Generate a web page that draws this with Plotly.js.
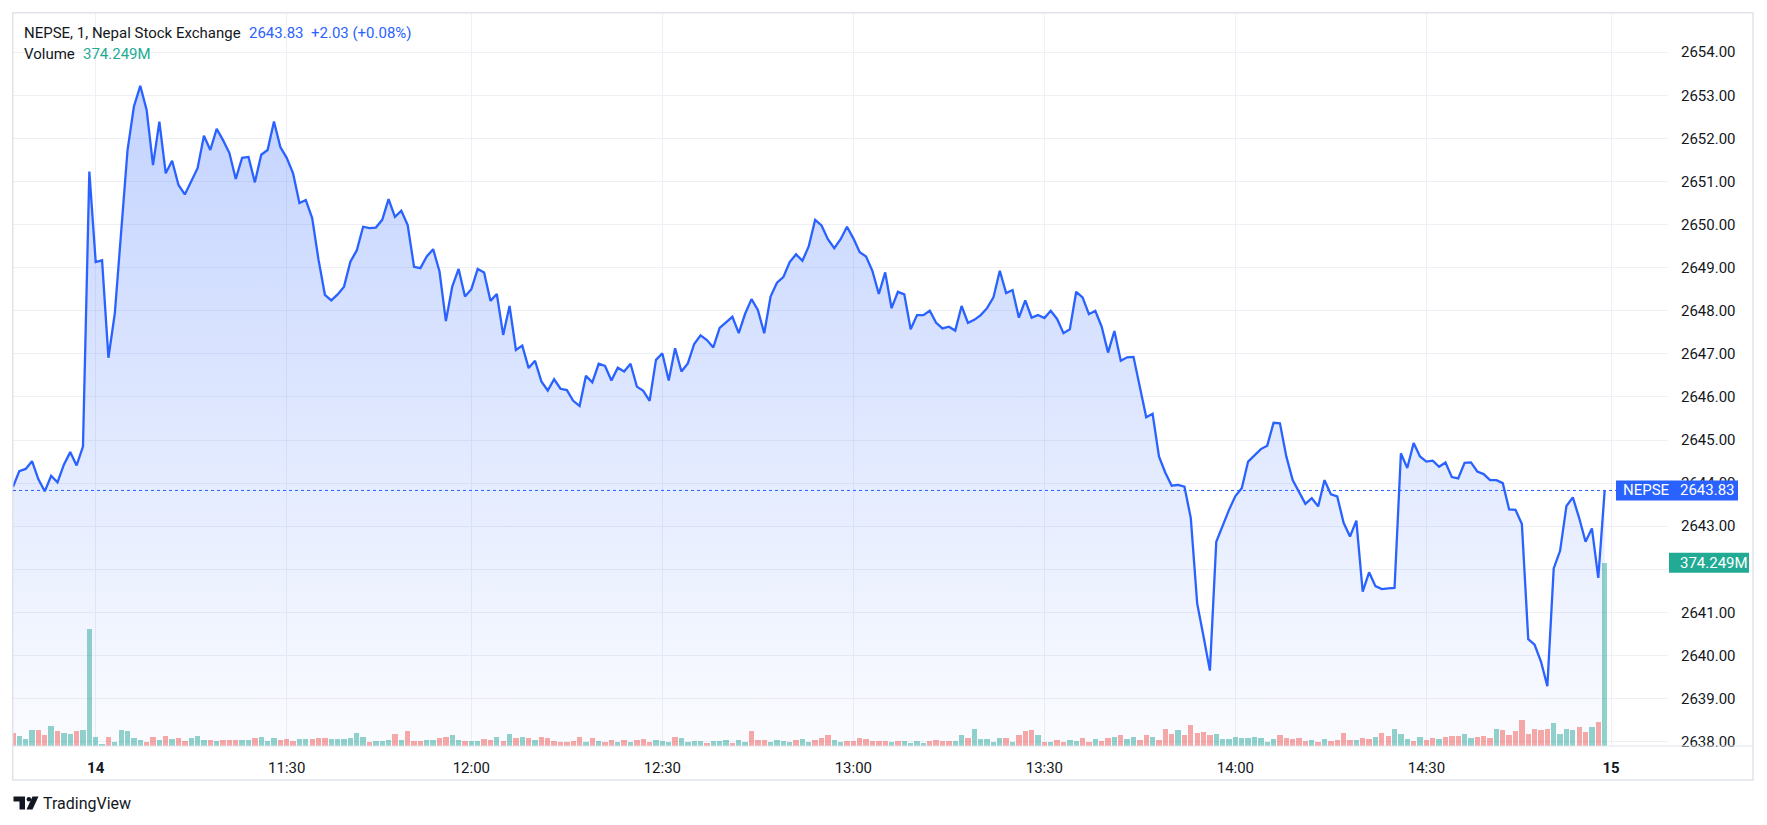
<!DOCTYPE html>
<html>
<head>
<meta charset="utf-8">
<script src="https://cdn.plot.ly/plotly-3.0.1.min.js"></script>
<style>
  html, body { margin: 0; padding: 0; background: #ffffff; }
  #chart { width: 1767px; height: 825px; }
</style>
</head>
<body>
<div id="chart"></div>
<script>
// ---------------- DATA ----------------
// One value per 1-minute bar; the first 13 bars are the end of the previous session.
const prices = [
  2643.91, 2644.28, 2644.33, 2644.51, 2644.09, 2643.81, 2644.17, 2644.02, 2644.43, 2644.72,
  2644.41, 2644.85, 2651.23, 2649.13, 2649.17, 2646.91, 2647.94, 2649.90, 2651.73, 2652.74,
  2653.22, 2652.66, 2651.38, 2652.39, 2651.19, 2651.48, 2650.92, 2650.70, 2651.00, 2651.31,
  2652.06, 2651.73, 2652.22, 2651.96, 2651.66, 2651.06, 2651.55, 2651.57, 2650.98, 2651.62,
  2651.73, 2652.39, 2651.80, 2651.55, 2651.19, 2650.50, 2650.57, 2650.15, 2649.18, 2648.37,
  2648.24, 2648.38, 2648.56, 2649.14, 2649.40, 2649.95, 2649.92, 2649.93, 2650.11, 2650.59,
  2650.18, 2650.32, 2649.99, 2649.02, 2648.99, 2649.26, 2649.43, 2648.91, 2647.76, 2648.56,
  2648.97, 2648.33, 2648.50, 2648.97, 2648.89, 2648.23, 2648.39, 2647.44, 2648.11, 2647.09,
  2647.19, 2646.67, 2646.84, 2646.36, 2646.15, 2646.41, 2646.19, 2646.16, 2645.91, 2645.79,
  2646.49, 2646.34, 2646.77, 2646.72, 2646.38, 2646.68, 2646.59, 2646.77, 2646.24, 2646.14,
  2645.91, 2646.86, 2647.01, 2646.38, 2647.13, 2646.59, 2646.78, 2647.23, 2647.43, 2647.32,
  2647.15, 2647.60, 2647.73, 2647.86, 2647.48, 2647.93, 2648.27, 2648.02, 2647.48, 2648.33,
  2648.65, 2648.78, 2649.13, 2649.31, 2649.16, 2649.50, 2650.11, 2649.98, 2649.66, 2649.45,
  2649.66, 2649.95, 2649.68, 2649.36, 2649.26, 2648.92, 2648.39, 2648.89, 2648.06, 2648.44,
  2648.38, 2647.57, 2647.90, 2647.90, 2648.00, 2647.72, 2647.59, 2647.63, 2647.54, 2648.11,
  2647.72, 2647.79, 2647.90, 2648.06, 2648.31, 2648.93, 2648.41, 2648.48, 2647.84, 2648.24,
  2647.84, 2647.90, 2647.83, 2648.00, 2647.81, 2647.48, 2647.57, 2648.44, 2648.31, 2647.92,
  2648.00, 2647.63, 2647.03, 2647.53, 2646.84, 2646.92, 2646.93, 2646.24, 2645.53, 2645.61,
  2644.62, 2644.24, 2643.94, 2643.96, 2643.92, 2643.19, 2641.21, 2640.44, 2639.65, 2642.64,
  2643.03, 2643.38, 2643.70, 2643.88, 2644.50, 2644.65, 2644.79, 2644.87, 2645.40, 2645.39,
  2644.62, 2644.07, 2643.80, 2643.52, 2643.65, 2643.46, 2644.07, 2643.74, 2643.69, 2643.08,
  2642.76, 2643.13, 2641.48, 2641.93, 2641.61, 2641.54, 2641.56, 2641.57, 2644.69, 2644.35,
  2644.93, 2644.62, 2644.50, 2644.52, 2644.38, 2644.48, 2644.14, 2644.11, 2644.47, 2644.48,
  2644.27, 2644.21, 2644.07, 2644.07, 2644.00, 2643.39, 2643.38, 2643.05, 2640.38, 2640.25,
  2639.86, 2639.29, 2642.02, 2642.43, 2643.47, 2643.67, 2643.19, 2642.64, 2642.95, 2641.80,
  2643.83
];

// Volume per bar, in millions
const volumes = [
  25.8, 20.4, 15.0, 32.0, 32.0, 21.8, 40.0, 30.0, 25.8, 24.5,
  30.6, 32.6, 238.0, 18.4, 3.4, 18.4, 8.2, 32.6, 30.0, 15.6,
  11.6, 7.5, 18.4, 11.6, 19.7, 14.3, 15.6, 10.2, 15.6, 19.7,
  11.6, 11.6, 9.5, 11.6, 11.6, 11.6, 11.6, 11.6, 15.6, 18.4,
  9.5, 15.6, 11.6, 13.6, 9.5, 13.6, 13.6, 13.6, 15.6, 15.6,
  13.6, 13.6, 13.6, 15.6, 25.8, 18.4, 7.5, 9.5, 9.5, 11.6,
  23.8, 11.6, 30.0, 9.5, 9.5, 11.6, 11.6, 15.6, 18.4, 21.8,
  11.6, 9.5, 9.5, 9.5, 13.6, 12.2, 18.4, 9.5, 23.8, 15.6,
  18.4, 15.6, 11.6, 18.4, 15.6, 9.5, 8.8, 8.8, 10.2, 18.4,
  8.8, 16.3, 10.2, 8.8, 12.2, 8.8, 12.2, 8.8, 12.2, 14.3,
  8.8, 12.2, 10.9, 8.8, 18.4, 16.3, 8.8, 10.2, 10.9, 6.8,
  10.2, 10.2, 12.2, 6.8, 12.2, 8.8, 30.6, 12.2, 12.2, 8.8,
  12.2, 10.2, 8.8, 12.2, 14.3, 8.8, 12.2, 16.3, 23.1, 12.2,
  8.8, 10.2, 10.2, 16.3, 14.3, 10.2, 10.2, 10.2, 8.8, 10.2,
  10.2, 6.8, 10.2, 6.8, 10.2, 12.2, 10.2, 10.2, 10.2, 22.4,
  16.3, 34.7, 14.3, 14.3, 8.8, 16.3, 16.3, 8.8, 22.4, 30.6,
  32.6, 23.1, 8.8, 8.8, 12.2, 8.8, 12.2, 10.2, 17.0, 8.8,
  14.3, 10.2, 17.0, 18.4, 22.4, 14.3, 18.4, 12.2, 22.4, 18.4,
  12.2, 34.7, 24.5, 32.6, 22.4, 42.8, 26.5, 28.6, 22.4, 24.5,
  14.3, 14.3, 18.4, 16.3, 16.3, 18.4, 16.3, 8.2, 14.3, 22.4,
  16.3, 14.3, 16.3, 10.2, 12.2, 8.2, 14.3, 10.2, 12.2, 26.5,
  12.2, 12.2, 16.3, 15.0, 18.4, 26.5, 20.4, 34.7, 24.5, 14.3,
  10.2, 18.4, 12.2, 16.3, 14.3, 18.4, 20.4, 20.4, 24.5, 16.3,
  18.4, 20.4, 16.3, 34.7, 32.6, 22.4, 30.6, 53.0, 24.5, 34.7,
  32.6, 34.7, 46.9, 24.5, 34.7, 32.6, 38.8, 28.6, 38.8, 49.0,
  374.249
];

// Bar direction (u = up bar, green; d = down bar, red)
const volDir = (
  "duuudduduu" + "duuuuduuuu" + "uddududduu" + "ududdduudu" + "uuddduuddd" +
  "uuuuuuduuu" + "duddduuddu" + "uduuddudud" + "ududdddddd" + "ududdududd" +
  "duuuduuuud" + "uuuduudddu" + "uuuduudddu" + "udddddddud" + "uuuudddduu" +
  "duuuuududd" + "dududduudd" + "udduduuddu" + "dddudddddu" + "uuuuuuuuud" +
  "ddddududdd" + "duddudduuu" + "dudduddduu" + "dddudddddd" + "dduuuuddud" + "u"
).split("");

// Time-axis ticks: bar index of each label (0 = first bar of the 14th)
const firstBarIndex = -13;
const tickIndex = [0, 30, 59, 89, 119, 149, 179, 209, 238];
const tickLabels = ["<b>14</b>", "11:30", "12:00", "12:30", "13:00", "13:30", "14:00", "14:30", "<b>15</b>"];

// Price-scale ticks (2642.00 is hidden behind the volume label in the reference)
const priceTicks = [2638, 2639, 2640, 2641, 2642, 2643, 2644, 2645, 2646, 2647, 2648, 2649, 2650, 2651, 2652, 2653, 2654];
const priceTickLabels = ["2638.00", "2639.00", "2640.00", "2641.00", "", "2643.00", "2644.00", "2645.00", "2646.00",
  "2647.00", "2648.00", "2649.00", "2650.00", "2651.00", "2652.00", "2653.00", "2654.00"];

const symbolTitle = "NEPSE, 1, Nepal Stock Exchange";
const seriesName = "NEPSE";

// ---------------- LAYOUT GEOMETRY ----------------
const W = 1767, H = 825;
const L = 13, R = 1668, T = 13, B = 746;
const pw = R - L, ph = B - T;
const X = px => (px - L) / pw;
const Y = py => (B - py) / ph;

const xRange = [-12.99, 246.95];
const yRange = [2637.90, 2654.91];
const lastPrice = prices[prices.length - 1];
const prevPrice = prices[prices.length - 2];
const lastVol = volumes[volumes.length - 1];
const volMax = lastVol * ph / 183.3;
const YP = p => (p - yRange[0]) / (yRange[1] - yRange[0]);

const barIdx = prices.map((_, i) => firstBarIndex + i);
const UP = "rgba(38,166,154,0.5)", DOWN = "rgba(239,83,80,0.5)";
const volColors = volDir.map(d => d === "u" ? UP : DOWN);

const FONT = "Roboto, 'Noto Sans', Arial, sans-serif";
const TXT = "#131722", BLUE = "#2962ff", GREEN = "#22ab94";

const priceTrace = {
  type: "scatter", mode: "lines",
  x: barIdx, y: prices,
  line: { color: BLUE, width: 2.3 },
  fill: "tozeroy",
  fillcolor: "rgba(41,98,255,0.12)",
  fillgradient: {
    type: "vertical",
    start: yRange[0], stop: Math.max(...prices),
    colorscale: [[0, "rgba(41,98,255,0.02)"], [1, "rgba(41,98,255,0.28)"]]
  },
  hoverinfo: "skip", showlegend: false
};

const volTrace = {
  type: "bar", x: barIdx, y: volumes, yaxis: "y2",
  width: 0.84,
  marker: { color: volColors, line: { width: 0 } },
  hoverinfo: "skip", showlegend: false
};

const change = lastPrice - prevPrice;
const pct = change / prevPrice * 100;
const sign = v => (v >= 0 ? "+" : "") + v.toFixed(2);

function ann(text, px, py, color, size, extra) {
  return Object.assign({
    text: text, xref: "paper", yref: "paper", x: X(px), y: Y(py),
    xanchor: "left", yanchor: "middle", showarrow: false,
    font: { family: FONT, size: size || 15, color: color }, borderpad: 0
  }, extra || {});
}

function pathPx(pts) {
  return "M" + pts.map(p => X(p[0]).toFixed(5) + "," + Y(p[1]).toFixed(5)).join(" L") + " Z";
}

const lastPy = B - YP(lastPrice) * ph;
const volPy = B - (lastVol / volMax) * ph;

const shapes = [
  // outer frame
  { type: "rect", xref: "paper", yref: "paper", x0: X(12.7), x1: X(1753), y0: Y(780), y1: Y(12.7),
    line: { color: "#e0e3eb", width: 1.5 }, fillcolor: "rgba(0,0,0,0)", layer: "above" },
  // time-scale separator
  { type: "line", xref: "paper", yref: "paper", x0: X(12.7), x1: X(1753), y0: 0, y1: 0,
    line: { color: "#e0e3eb", width: 1 }, layer: "above" },
  // last-price dotted line
  { type: "line", xref: "paper", yref: "paper", x0: 0, x1: X(1616), y0: YP(lastPrice), y1: YP(lastPrice),
    line: { color: BLUE, width: 1, dash: "dot" }, layer: "above" },
  // last-price label box
  { type: "rect", xref: "paper", yref: "paper", x0: X(1616), x1: X(1738), y0: Y(lastPy + 10), y1: Y(lastPy - 10),
    line: { width: 0 }, fillcolor: BLUE, layer: "above" },
  // volume label box
  { type: "rect", xref: "paper", yref: "paper", x0: X(1669), x1: X(1749), y0: Y(volPy + 10), y1: Y(volPy - 10),
    line: { width: 0 }, fillcolor: GREEN, layer: "above" },
  // TradingView logo
  { type: "path", xref: "paper", yref: "paper", layer: "above", line: { width: 0 }, fillcolor: TXT,
    path: pathPx([[13.5, 796.5], [25, 796.5], [25, 809.5], [19.5, 809.5], [19.5, 801.5], [13.5, 801.5]]) },
  { type: "circle", xref: "paper", yref: "paper", layer: "above", line: { width: 0 }, fillcolor: TXT,
    x0: X(26.6), x1: X(31.2), y0: Y(801.6), y1: Y(797) },
  { type: "path", xref: "paper", yref: "paper", layer: "above", line: { width: 0 }, fillcolor: TXT,
    path: pathPx([[32.5, 796.5], [38.5, 796.5], [32.5, 809.5], [26.5, 809.5]]) }
];

const annotations = [
  ann(symbolTitle, 23, 33.5, TXT),
  ann(lastPrice.toFixed(2), 248, 33.5, BLUE),
  ann(sign(change) + " (" + sign(pct) + "%)", 310, 33.5, BLUE),
  ann("Volume", 23, 53.5, TXT),
  ann(lastVol.toFixed(3) + "M", 81.5, 53.5, GREEN),
  ann(seriesName, 1622, lastPy, "#ffffff"),
  ann(lastPrice.toFixed(2), 1679, lastPy, "#ffffff"),
  ann(lastVol.toFixed(3) + "M", 1679, volPy, "#ffffff"),
  ann("TradingView", 42, 803, TXT, 16)
];

const layout = {
  width: W, height: H,
  margin: { l: L, r: W - R, t: T, b: H - B, pad: 0 },
  paper_bgcolor: "#ffffff", plot_bgcolor: "#ffffff",
  font: { family: FONT, size: 15, color: TXT },
  showlegend: false,
  bargap: 0,
  xaxis: {
    range: xRange, tickmode: "array", tickvals: tickIndex, ticktext: tickLabels,
    showgrid: true, gridcolor: "#eef0f5", gridwidth: 1,
    zeroline: false, showline: false,
    ticks: "outside", ticklen: 8, tickcolor: "rgba(0,0,0,0)",
    tickfont: { family: FONT, size: 15, color: TXT }, fixedrange: true
  },
  yaxis: {
    range: yRange, side: "right", tickmode: "array", tickvals: priceTicks, ticktext: priceTickLabels,
    showgrid: true, gridcolor: "#eef0f5", gridwidth: 1,
    zeroline: false, showline: false,
    ticks: "outside", ticklen: 9, tickcolor: "rgba(0,0,0,0)",
    tickfont: { family: FONT, size: 15, color: TXT }, fixedrange: true
  },
  yaxis2: {
    overlaying: "y", range: [0, volMax], visible: false, showgrid: false, zeroline: false, fixedrange: true
  },
  shapes: shapes,
  annotations: annotations
};

Plotly.newPlot("chart", [priceTrace, volTrace], layout, { displayModeBar: false, staticPlot: true });
</script>
</body>
</html>
